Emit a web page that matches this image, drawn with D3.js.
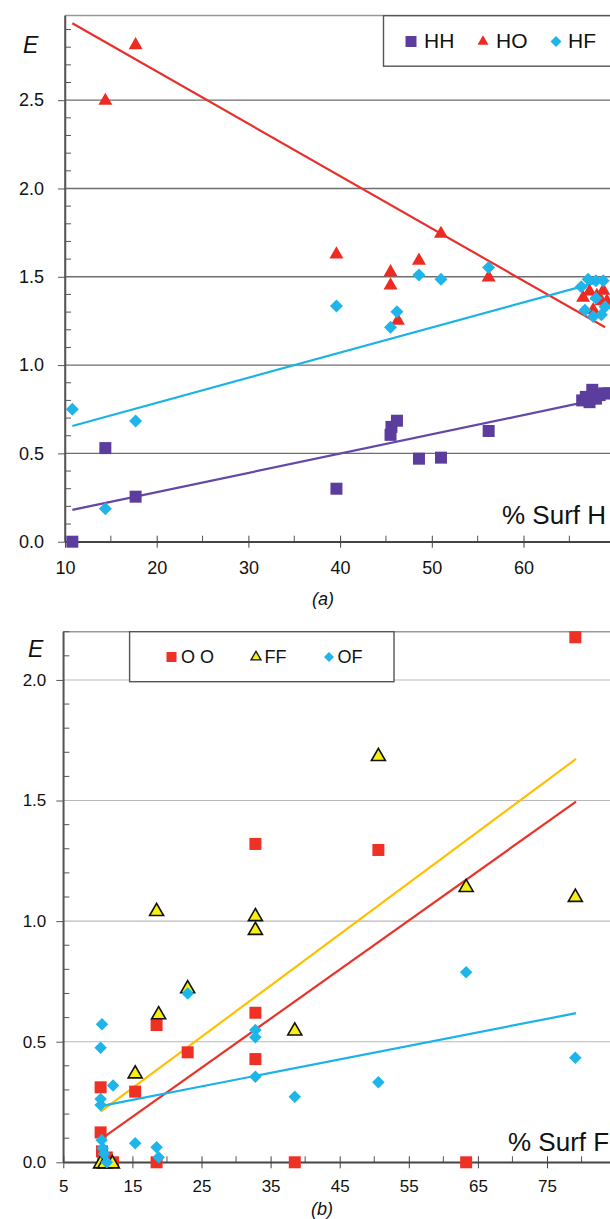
<!DOCTYPE html>
<html>
<head>
<meta charset="utf-8">
<script src="https://cdn.jsdelivr.net/npm/d3@7"></script>
<style>
  body { margin: 0; background: #fff; }
  svg { display: block; }
  text { font-family: "Liberation Sans", Arial, sans-serif; fill: #111; }
</style>
</head>
<body>
<div id="chart"></div>
<script>
// ---- panel (a) data: % Surf H vs E ----
const hhA = [[10.8,0.0],[14.4,0.53],[17.7,0.255],[39.6,0.30],[45.5,0.605],[45.6,0.65],[46.2,0.685],
  [48.6,0.47],[51.0,0.476],[56.2,0.627],[66.4,0.80],[66.8,0.82],[67.2,0.79],[67.5,0.86],[67.9,0.81],
  [68.3,0.83],[68.8,0.84],[69.3,0.84]];
const hoA = [[14.4,2.505],[17.7,2.82],[39.6,1.635],[45.5,1.535],[45.5,1.46],[46.3,1.26],[48.6,1.60],
  [51.0,1.752],[56.2,1.505],[66.5,1.39],[67.2,1.425],[67.6,1.32],[68.0,1.40],[68.5,1.37],[68.7,1.43],[69.1,1.37]];
const hfA = [[10.8,0.75],[14.4,0.187],[17.7,0.683],[39.6,1.335],[45.5,1.214],[46.2,1.302],[48.6,1.51],
  [51.0,1.486],[56.2,1.552],[66.3,1.443],[66.7,1.31],[67.05,1.486],[67.6,1.275],[67.9,1.478],[67.9,1.378],
  [68.5,1.285],[68.7,1.478],[68.9,1.33]];
// trend lines: [x start, x end, slope, intercept]
const trendA = { HH: [10.8, 69, 0.01092, 0.062], HO: [10.8, 68.9, -0.02964, 3.256], HF: [10.8, 69, 0.01421, 0.502] };

// ---- panel (b) data: % Surf F vs E ----
const ooB = [[10.4,0.311],[10.4,0.124],[10.6,0.045],[11.3,0.02],[12.2,0.0],[15.4,0.293],[18.5,0.569],
  [18.5,0.0],[23.0,0.456],[32.8,0.62],[32.8,0.428],[32.8,1.32],[38.5,0.0],[50.6,1.295],[63.3,0.0],[79.1,2.177]];
const ffB = [[10.4,0.0],[11.0,0.0],[12.1,0.0],[15.4,0.373],[18.5,1.046],[18.8,0.618],[23.0,0.726],
  [32.8,1.025],[32.8,0.968],[38.5,0.551],[50.6,1.689],[63.3,1.146],[79.1,1.105]];
const ofB = [[10.4,0.475],[10.6,0.572],[10.4,0.262],[10.4,0.238],[10.55,0.092],[10.7,0.058],[10.9,0.034],
  [11.3,0.0],[12.2,0.318],[15.4,0.079],[18.5,0.062],[18.8,0.021],[23.0,0.70],[32.8,0.549],[32.8,0.518],
  [32.8,0.355],[38.5,0.272],[50.6,0.332],[63.3,0.788],[79.1,0.434]];
const trendB = { OO: [10.4, 79.2, 0.02036, -0.117], FF: [10.4, 79.2, 0.02126, -0.0113], OF: [10.4, 79.2, 0.0056, 0.1747] };

const xTicksA = [10, 20, 30, 40, 50, 60, 70];
const yTicksA = [0, 0.5, 1.0, 1.5, 2.0, 2.5];
const xTicksB = [5, 15, 25, 35, 45, 55, 65, 75, 85];
const yTicksB = [0, 0.5, 1.0, 1.5, 2.0];

const width = 610, height = 1219;
const svg = d3.select("#chart").append("svg").attr("width", width).attr("height", height);

const sym = {
  square: (s) => d3.symbol(d3.symbolSquare, s * s)(),
  triangle: (s) => d3.symbol(d3.symbolTriangle, 0.433 * s * s)(),
  diamond: (s) => d3.symbol(d3.symbolSquare, s * s / 2)()
};

function panel(cfg) {
  const g = svg.append("g");
  const x = d3.scaleLinear().domain(cfg.xDomain).range(cfg.xRange);
  const y = d3.scaleLinear().domain(cfg.yDomain).range(cfg.yRange);
  const x0 = cfg.xRange[0], y0 = cfg.yRange[0], yTop = cfg.yRange[1];

  // gridlines
  g.selectAll(".grid").data(cfg.yTicks.filter(d => d > 0)).join("line")
    .attr("x1", x0).attr("x2", width + 10)
    .attr("y1", d => y(d)).attr("y2", d => y(d))
    .attr("stroke", cfg.gridColor).attr("stroke-width", cfg.gridWidth);

  // frame top
  g.append("line").attr("x1", x0).attr("x2", width + 10).attr("y1", yTop).attr("y2", yTop)
    .attr("stroke", "#999").attr("stroke-width", 1.5);

  // minor y ticks (inward)
  const yMinor = d3.range(0, cfg.yDomain[1] + 0.001, 0.1).filter(v => Math.abs(v * 2 - Math.round(v * 2)) > 0.01);
  g.selectAll(".ymin").data(yMinor).join("line")
    .attr("x1", x0).attr("x2", x0 + 6).attr("y1", d => y(d)).attr("y2", d => y(d))
    .attr("stroke", "#555").attr("stroke-width", 1);

  // y axis
  g.append("g").attr("transform", `translate(${x0},0)`)
    .call(d3.axisLeft(y).tickValues(cfg.yTicks).tickSize(7).tickSizeOuter(0).tickPadding(cfg.yPad).tickFormat(d3.format(".1f")))
    .call(a => a.select(".domain").attr("stroke", "#555").attr("stroke-width", 1.5))
    .call(a => a.selectAll(".tick line").attr("stroke", "#555"))
    .call(a => a.selectAll("text").attr("font-size", cfg.tickFont).attr("fill", "#111")
      .attr("font-family", "Liberation Sans, Arial, sans-serif"));
  // domain up to the frame top
  g.append("line").attr("x1", x0).attr("x2", x0).attr("y1", yTop).attr("y2", y0)
    .attr("stroke", "#555").attr("stroke-width", 1.5);

  // minor x ticks (inward)
  const step = cfg.xTicks[1] - cfg.xTicks[0];
  const xMinor = cfg.xTicks.map(v => v + step / 2).filter(v => v < cfg.xDomain[1]);
  g.selectAll(".xmin").data(xMinor).join("line")
    .attr("x1", d => x(d)).attr("x2", d => x(d)).attr("y1", y0).attr("y2", y0 - 6)
    .attr("stroke", "#555").attr("stroke-width", 1);

  // x axis (ticks cross the axis); labels past the picture edge are not shown
  g.append("g").attr("transform", `translate(0,${y0})`)
    .call(d3.axisBottom(x).tickValues(cfg.xTicks).tickSize(6).tickSizeOuter(0).tickPadding(cfg.xPad).tickFormat(d3.format("d")))
    .call(a => a.select(".domain").attr("stroke", "#444").attr("stroke-width", 1.5))
    .call(a => a.selectAll(".tick line").attr("y1", -6).attr("stroke", "#444"))
    .call(a => a.selectAll("text").attr("font-size", cfg.tickFont).attr("fill", "#111")
      .attr("font-family", "Liberation Sans, Arial, sans-serif")
      .filter(d => x(d) > width - 12).remove());
  g.append("line").attr("x1", x0).attr("x2", width + 10).attr("y1", y0).attr("y2", y0)
    .attr("stroke", "#444").attr("stroke-width", 1.5);

  // trend lines
  cfg.series.forEach(s => {
    const t = s.trend;
    const pts = [t[0], t[1]].map(v => [v, t[2] * v + t[3]]);
    g.append("path").datum(pts)
      .attr("d", d3.line().x(d => x(d[0])).y(d => y(d[1])))
      .attr("fill", "none").attr("stroke", s.lineColor).attr("stroke-width", 2.2);
  });

  // markers
  cfg.series.forEach(s => {
    g.append("g").selectAll("path").data(s.data).join("path")
      .attr("d", sym[s.shape](s.size))
      .attr("transform", d => `translate(${x(d[0])},${y(d[1])})` + (s.shape === "diamond" ? " rotate(45)" : "") +
        (s.shape === "triangle" ? " translate(0,1.5)" : ""))
      .attr("fill", s.color)
      .attr("stroke", s.stroke || "none").attr("stroke-width", s.stroke ? 1.6 : 0);
  });

  // E label
  g.append("text").attr("x", cfg.eX).attr("y", cfg.eY).attr("font-size", cfg.eFont)
    .attr("font-style", "italic").text("E");

  // axis title
  g.append("text").attr("x", cfg.titleX).attr("y", cfg.titleY).attr("font-size", 26).text(cfg.title);

  // legend
  const L = cfg.legend;
  g.append("rect").attr("x", L.x).attr("y", L.y).attr("width", L.w).attr("height", L.h)
    .attr("fill", "#fff").attr("stroke", "#555").attr("stroke-width", 1.4);
  cfg.series.forEach((s, i) => {
    const it = L.items[i];
    g.append("path").attr("d", sym[s.shape](L.sym))
      .attr("transform", `translate(${it[0]},${L.symY})` + (s.shape === "diamond" ? " rotate(45)" : ""))
      .attr("fill", s.color).attr("stroke", s.stroke || "none").attr("stroke-width", s.stroke ? 1.3 : 0);
    g.append("text").attr("x", it[1]).attr("y", L.textY).attr("font-size", L.font).text(s.name);
  });

  // caption
  svg.append("text").attr("x", cfg.capX).attr("y", cfg.capY).attr("text-anchor", "middle")
    .attr("font-family", "Liberation Serif, Times New Roman, serif").attr("font-style", "italic")
    .attr("font-size", 18).text(cfg.caption);
}

panel({
  xDomain: [10, 70], xRange: [65, 615.2],
  yDomain: [0, 2.98], yRange: [541.7, 15.4],
  xTicks: xTicksA, yTicks: yTicksA,
  gridColor: "#6e6e6e", gridWidth: 1.4,
  tickFont: 18, yPad: 14, xPad: 14,
  eX: 23, eY: 53, eFont: 23,
  title: "% Surf H", titleX: 502, titleY: 524,
  legend: { x: 383.5, y: 15.7, w: 240, h: 50.5, symY: 41.5, textY: 48, font: 21, sym: 11,
    items: [[411, 424], [483, 496], [556, 568]] },
  caption: "(a)", capX: 323, capY: 605,
  series: [
    { name: "HH", data: hhA, shape: "square", size: 12, color: "#5a3d9c", lineColor: "#6447a8", trend: trendA.HH },
    { name: "HO", data: hoA, shape: "triangle", size: 14, color: "#ee2b22", lineColor: "#e8302a", trend: trendA.HO },
    { name: "HF", data: hfA, shape: "diamond", size: 13, color: "#1db5ea", lineColor: "#1ab2e8", trend: trendA.HF }
  ]
});

panel({
  xDomain: [5, 85], xRange: [63.3, 616.1],
  yDomain: [0, 2.2], yRange: [1162.3, 631.7],
  xTicks: xTicksB, yTicks: yTicksB,
  gridColor: "#b9b9b9", gridWidth: 1.1,
  tickFont: 17, yPad: 10, xPad: 12,
  eX: 28, eY: 657, eFont: 23,
  title: "% Surf F", titleX: 508, titleY: 1151,
  legend: { x: 129.6, y: 631.7, w: 264.4, h: 50, symY: 657, textY: 662.5, font: 18, sym: 10,
    items: [[171.5, 181], [256, 264.5], [329, 337.5]] },
  caption: "(b)", capX: 322, capY: 1215,
  series: [
    { name: "O O", data: ooB, shape: "square", size: 12, color: "#ee3124", lineColor: "#e8332b", trend: trendB.OO },
    { name: "FF", data: ffB, shape: "triangle", size: 14, color: "#f7ee14", stroke: "#111", lineColor: "#ffc000", trend: trendB.FF },
    { name: "OF", data: ofB, shape: "diamond", size: 12.5, color: "#1db5ea", lineColor: "#1ab2e8", trend: trendB.OF }
  ]
});
</script>
</body>
</html>
